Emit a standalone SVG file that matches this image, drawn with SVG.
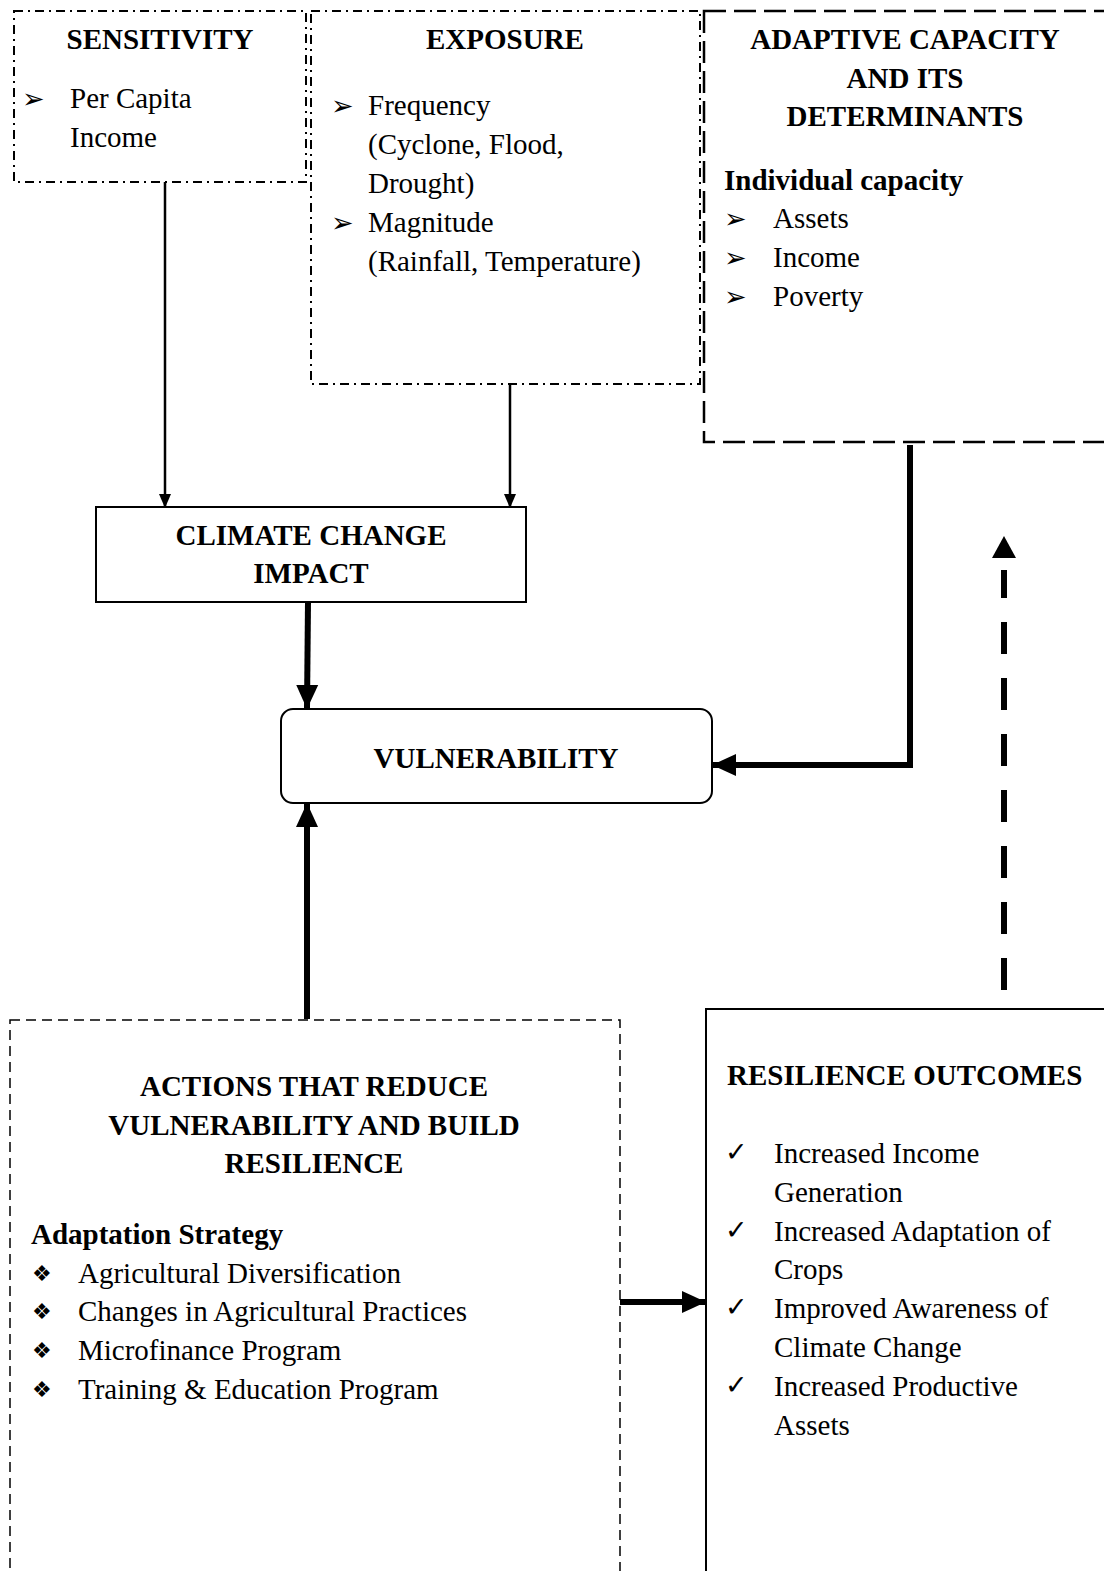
<svg xmlns="http://www.w3.org/2000/svg" width="1104" height="1571" viewBox="0 0 1104 1571">
<style>
text{font-family:"Liberation Serif","Times New Roman",serif;font-size:29px;fill:#000}
.b{font-weight:bold}
.c{text-anchor:middle}
.bul{font-family:"DejaVu Sans",sans-serif;font-size:27px}
.dia{font-family:"DejaVu Sans",sans-serif;font-size:22px}
.dd{fill:none;stroke:#000;stroke-width:2;stroke-dasharray:9 5 2 5}
.ds{fill:none;stroke:#000;stroke-width:2.5;stroke-dasharray:22 8}
.dt{fill:none;stroke:#000;stroke-width:1.5;stroke-dasharray:10 6}
.sl{fill:none;stroke:#000;stroke-width:2}
.thin{fill:none;stroke:#000;stroke-width:2.5}
.thick{fill:none;stroke:#000;stroke-width:6}
</style>
<defs>
<marker id="ah" markerWidth="14" markerHeight="14" refX="13" refY="7" orient="auto" markerUnits="userSpaceOnUse" viewBox="0 0 14 14"><path d="M0,1 L14,7 L0,13 Z" fill="#000"/></marker>
<marker id="ah2" markerWidth="24" markerHeight="24" refX="23" refY="12" orient="auto" markerUnits="userSpaceOnUse" viewBox="0 0 24 24"><path d="M0,1 L24,12 L0,23 Z" fill="#000"/></marker>
</defs>
<rect width="1104" height="1571" fill="#fff"/>
<g id="connectors">
<line class="thin" x1="165" y1="182" x2="165" y2="507" marker-end="url(#ah)"/>
<line class="thin" x1="510" y1="384" x2="510" y2="507" marker-end="url(#ah)"/>
<line class="thick" x1="308" y1="602" x2="307" y2="708" marker-end="url(#ah2)"/>
<polyline class="thick" points="910,445 910,765 713,765" marker-end="url(#ah2)"/>
<line class="thick" x1="307" y1="1019" x2="307" y2="804" marker-end="url(#ah2)"/>
<line class="thick" x1="620" y1="1302" x2="705" y2="1302" marker-end="url(#ah2)"/>
<line x1="1004" y1="990" x2="1004" y2="570" stroke="#000" stroke-width="6" stroke-dasharray="32 24"/>
<path d="M992,558 L1004,536 L1016,558 Z" fill="#000"/>
</g>
<g id="sensitivity">
<rect class="dd" x="14" y="11" width="292" height="171"/>
<text class="b c" x="160" y="49">SENSITIVITY</text>
<text class="bul" x="22" y="108">➢</text>
<text x="70" y="108">Per Capita</text>
<text x="70" y="147">Income</text>
</g>
<g id="exposure">
<rect class="dd" x="311" y="11" width="389" height="373"/>
<text class="b c" x="505" y="49">EXPOSURE</text>
<text class="bul" x="331" y="115">➢</text>
<text x="368" y="115">Frequency</text>
<text x="368" y="154">(Cyclone, Flood,</text>
<text x="368" y="193">Drought)</text>
<text class="bul" x="331" y="232">➢</text>
<text x="368" y="232">Magnitude</text>
<text x="368" y="271">(Rainfall, Temperature)</text>
</g>
<g id="adaptive">
<rect class="ds" x="704" y="11" width="420" height="431"/>
<text class="b c" x="905" y="49">ADAPTIVE CAPACITY</text>
<text class="b c" x="905" y="88">AND ITS</text>
<text class="b c" x="905" y="126">DETERMINANTS</text>
<text class="b" x="724" y="190">Individual capacity</text>
<text class="bul" x="724" y="228">➢</text>
<text x="773" y="228">Assets</text>
<text class="bul" x="724" y="267">➢</text>
<text x="773" y="267">Income</text>
<text class="bul" x="724" y="306">➢</text>
<text x="773" y="306">Poverty</text>
</g>
<g id="impact">
<rect class="sl" x="96" y="507" width="430" height="95"/>
<text class="b c" x="311" y="545">CLIMATE CHANGE</text>
<text class="b c" x="311" y="583">IMPACT</text>
</g>
<g id="vulnerability">
<rect class="sl" x="281" y="709" width="431" height="94" rx="12"/>
<text class="b c" x="496" y="768">VULNERABILITY</text>
</g>
<g id="actions">
<rect class="dt" x="10" y="1020" width="610" height="600"/>
<text class="b c" x="314" y="1096">ACTIONS THAT REDUCE</text>
<text class="b c" x="314" y="1135">VULNERABILITY AND BUILD</text>
<text class="b c" x="314" y="1173">RESILIENCE</text>
<text class="b" x="31" y="1244">Adaptation Strategy</text>
<text class="dia" x="32" y="1281">❖</text>
<text x="78" y="1283">Agricultural Diversification</text>
<text class="dia" x="32" y="1319">❖</text>
<text x="78" y="1321">Changes in Agricultural Practices</text>
<text class="dia" x="32" y="1358">❖</text>
<text x="78" y="1360">Microfinance Program</text>
<text class="dia" x="32" y="1397">❖</text>
<text x="78" y="1399">Training &amp; Education Program</text>
</g>
<g id="outcomes">
<rect class="sl" x="706" y="1009" width="420" height="620"/>
<text class="b" x="727" y="1085">RESILIENCE OUTCOMES</text>
<text class="bul" x="725" y="1161">✓</text>
<text x="774" y="1163">Increased Income</text>
<text x="774" y="1202">Generation</text>
<text class="bul" x="725" y="1239">✓</text>
<text x="774" y="1241">Increased Adaptation of</text>
<text x="774" y="1279">Crops</text>
<text class="bul" x="725" y="1316">✓</text>
<text x="774" y="1318">Improved Awareness of</text>
<text x="774" y="1357">Climate Change</text>
<text class="bul" x="725" y="1394">✓</text>
<text x="774" y="1396">Increased Productive</text>
<text x="774" y="1435">Assets</text>
</g>
</svg>
